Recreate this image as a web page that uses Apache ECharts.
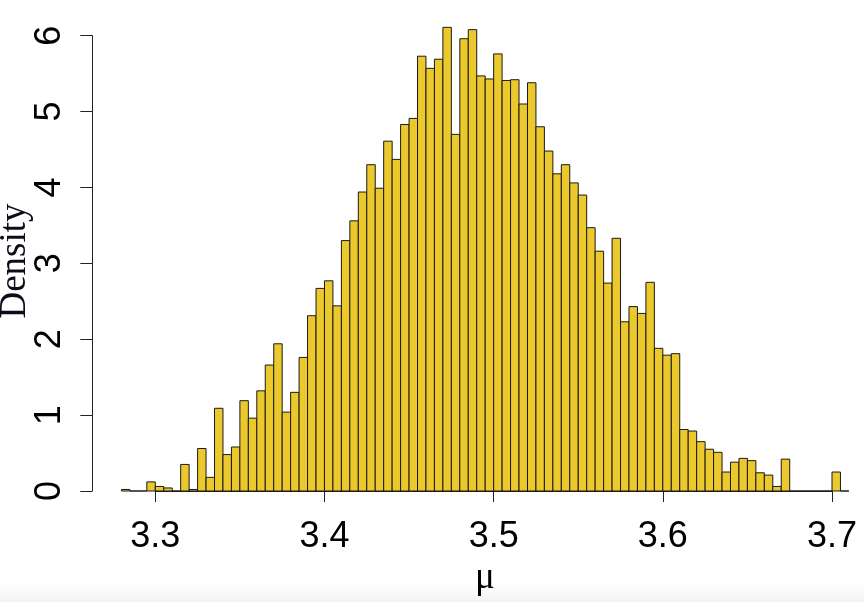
<!DOCTYPE html>
<html><head><meta charset="utf-8">
<script src="https://cdn.jsdelivr.net/npm/echarts@6/dist/echarts.min.js"></script>
<style>html,body{margin:0;padding:0;background:#fff}#c{width:864px;height:602px}</style>
</head><body><div id="c"></div>
<script>
// Histogram breaks: first break and bin width (R hist of posterior draws of mu)
const firstBreak = 3.28;
const binWidth = 0.005;
// Density of each bin (86 bins, 3.28 .. 3.71)
const density = [
  0.02, 0, 0, 0.12, 0.06, 0.04, 0, 0.35, 0.02, 0.56,
  0.18, 1.09, 0.48, 0.58, 1.19, 0.96, 1.32, 1.66, 1.94, 1.04,
  1.30, 1.76, 2.31, 2.67, 2.77, 2.44, 3.30, 3.56, 3.94, 4.30,
  3.99, 4.61, 4.37, 4.83, 4.91, 5.73, 5.57, 5.69, 6.11, 4.70,
  5.96, 6.08, 5.47, 5.43, 5.76, 5.41, 5.42, 5.10, 5.38, 4.80,
  4.48, 4.18, 4.30, 4.06, 3.90, 3.47, 3.16, 2.74, 3.33, 2.23,
  2.43, 2.34, 2.75, 1.88, 1.79, 1.81, 0.81, 0.79, 0.65, 0.55,
  0.51, 0.25, 0.38, 0.43, 0.40, 0.24, 0.21, 0.06, 0.42, 0,
  0, 0, 0, 0, 0.25, 0
];
const xTickLabels = ['3.3', '3.4', '3.5', '3.6', '3.7'];
const yTickLabels = ['0', '1', '2', '3', '4', '5', '6'];
const xTitle = 'μ';
const yTitle = 'Density';

const bins = density.map((d, i) => [firstBreak + i * binWidth, firstBreak + (i + 1) * binWidth, d]);

const chart = echarts.init(document.getElementById('c'), null, {renderer: 'canvas'});
const lineCol = '#222';
chart.setOption({
  animation: false,
  backgroundColor: '#ffffff',
  grid: {left: 155.3, top: 35.7, width: 676.7, height: 455.3, containLabel: false},
  xAxis: {
    type: 'value', min: 3.3, max: 3.7, interval: 0.1, offset: 20,
    axisLine: {show: true, lineStyle: {color: lineCol, width: 1}},
    axisTick: {show: true, length: 11, inside: false, lineStyle: {color: lineCol, width: 1}},
    axisLabel: {show: true, margin: 8, fontSize: 36, fontFamily: 'Liberation Sans', color: '#000',
      formatter: v => xTickLabels.find(t => Math.abs(parseFloat(t) - v) < 1e-6) || ''},
    splitLine: {show: false}
  },
  yAxis: {
    type: 'value', min: 0, max: 6, interval: 1, offset: 63,
    axisLine: {show: true, lineStyle: {color: lineCol, width: 1}},
    axisTick: {show: true, length: 12, inside: false, lineStyle: {color: lineCol, width: 1}},
    axisLabel: {show: true, rotate: 90, margin: 24, fontSize: 36, fontFamily: 'Liberation Sans', color: '#000',
      formatter: v => yTickLabels.find(t => Math.abs(parseFloat(t) - v) < 1e-6) || ''},
    splitLine: {show: false}
  },
  graphic: [
    {type: 'rect', silent: true, z: -10, shape: {x: 0, y: 582, width: 864, height: 20},
      style: {fill: new echarts.graphic.LinearGradient(0, 0, 0, 1, [{offset: 0, color: '#ffffff'}, {offset: 1, color: '#f3f3f3'}])}},
    {type: 'text', z: 10, x: 485, y: 578, style: {text: xTitle, font: '37px "Liberation Serif"', fill: '#000', textAlign: 'center', textVerticalAlign: 'middle'}},
    {type: 'text', z: 10, x: 15, y: 261, rotation: Math.PI / 2, style: {text: yTitle, font: '37px "Liberation Serif"', fill: '#0d0d1a', textAlign: 'center', textVerticalAlign: 'middle'}}
  ],
  series: [{
    type: 'custom',
    clip: false,
    silent: true,
    data: bins,
    encode: {x: [0, 1], y: 2},
    renderItem: function (params, api) {
      const top = api.coord([api.value(0), api.value(2)]);
      const bot = api.coord([api.value(1), 0]);
      return {
        type: 'rect',
        shape: {x: top[0], y: top[1], width: bot[0] - top[0], height: bot[1] - top[1]},
        style: {fill: '#EBC82C', stroke: '#1a1a1a', lineWidth: 1}
      };
    }
  }]
});
</script>
</body></html>
